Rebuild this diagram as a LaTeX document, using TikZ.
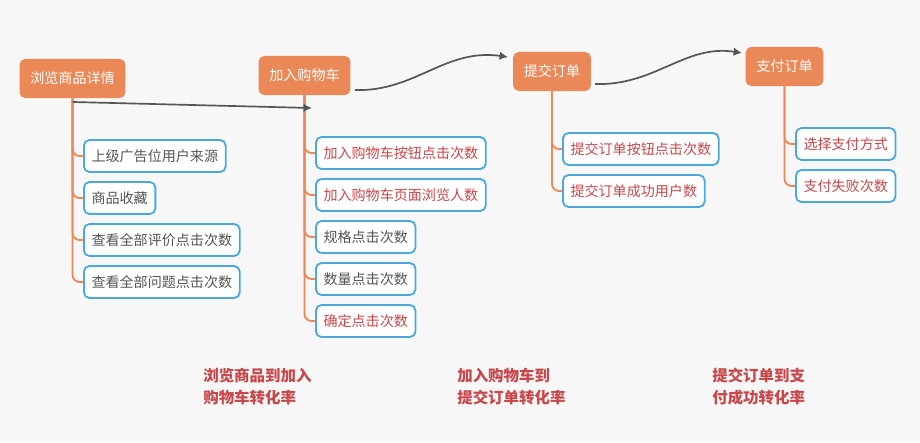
\documentclass[tikz,border=0pt]{standalone}
\usepackage{fontspec}
\setmainfont{Noto Sans CJK SC}
\usepackage{tikz}
\usetikzlibrary{arrows.meta}
\usepackage{xcolor}
\definecolor{stageorange}{HTML}{EA8857}
\definecolor{leafblue}{HTML}{4AA8DF}
\definecolor{leafgray}{HTML}{555555}
\definecolor{leafred}{HTML}{C9474A}
\definecolor{flowgray}{HTML}{555555}
\definecolor{bggray}{HTML}{F7F7F7}

\tikzset{
  stage/.style={rectangle,rounded corners=4pt,fill=stageorange,text=white,
    minimum height=0.975cm,inner xsep=0.27cm,inner ysep=0pt,font=\fontsize{10}{12}\selectfont},
  leaf/.style={rectangle,rounded corners=4pt,draw=leafblue,line width=1.3pt,fill=white,
    anchor=west,minimum height=0.8cm,inner xsep=0.19cm,inner ysep=0pt,text=leafgray,
    font=\fontsize{10}{12}\selectfont},
  hot/.style={leaf,text=leafred},
  branch/.style={draw=stageorange,line width=1.3pt,rounded corners=5pt},
  flow/.style={draw=flowgray,line width=1.2pt,-{Latex[length=6pt,width=6pt]}},
  rate/.style={anchor=west,align=left,inner sep=0pt,text=leafred,
    font=\fontsize{11}{15.6}\selectfont\bfseries}
}

\begin{document}
\begin{tikzpicture}[x=0.025cm,y=-0.025cm]
 \fill[bggray] (0,0) rectangle (920,442);

 % stages
 \node[stage] (browse) at (72.5,78.5) {浏览商品详情};
 \node[stage] (cart) at (304.5,75.5) {加入购物车};
 \node[stage] (order) at (552,71.5) {提交订单};
 \node[stage] (pay) at (784.5,66.5) {支付订单};

 % browse children
 \node[leaf] (b1) at (83,156) {上级广告位用户来源};
 \node[leaf] (b2) at (83,198) {商品收藏};
 \node[leaf] (b3) at (83,240) {查看全部评价点击次数};
 \node[leaf] (b4) at (83,282) {查看全部问题点击次数};

 % cart children
 \node[hot] (c1) at (315,153) {加入购物车按钮点击次数};
 \node[hot] (c2) at (315,195) {加入购物车页面浏览人数};
 \node[leaf] (c3) at (315,237) {规格点击次数};
 \node[leaf] (c4) at (315,279) {数量点击次数};
 \node[hot] (c5) at (315,321) {确定点击次数};

 % order children
 \node[hot] (o1) at (562,149) {提交订单按钮点击次数};
 \node[hot] (o2) at (562,191) {提交订单成功用户数};

 % pay children
 \node[hot] (p1) at (795,144) {选择支付方式};
 \node[hot] (p2) at (795,186) {支付失败次数};

 % branches
 \foreach \c in {b1,b2,b3,b4}
   \draw[branch] (browse.south) |- (\c.west);
 \foreach \c in {c1,c2,c3,c4,c5}
   \draw[branch] (cart.south) |- (\c.west);
 \foreach \c in {o1,o2}
   \draw[branch] (order.south) |- (\c.west);
 \foreach \c in {p1,p2}
   \draw[branch] (pay.south) |- (\c.west);

 % flow arrows
 \coordinate (bstart) at (73,102);
 \coordinate (bend) at (312,108);
 \draw[flow] (bstart) -- (bend);
 \coordinate (cstart) at (355,90);
 \coordinate (cend) at (508,57);
 \draw[flow] (cstart) .. controls (415,92) and (445,48) .. (cend);
 \coordinate (ostart) at (595,84);
 \coordinate (oend) at (742,53);
 \draw[flow] (ostart) .. controls (655,86) and (685,44) .. (oend);

 % rates
 \node[rate] (r1) at (203,387) {浏览商品到加入\\购物车转化率};
 \node[rate] (r2) at (457,387) {加入购物车到\\提交订单转化率};
 \node[rate] (r3) at (712,387) {提交订单到支\\付成功转化率};
\end{tikzpicture}
\end{document}
